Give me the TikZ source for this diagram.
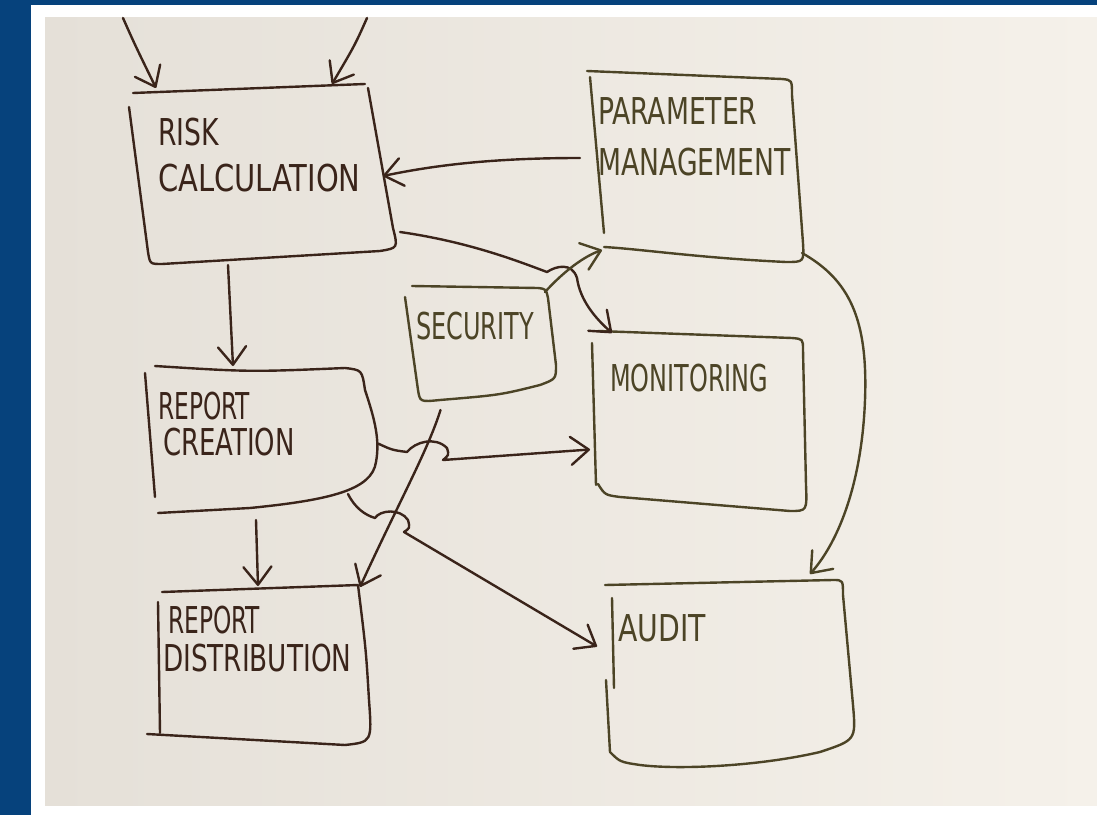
\documentclass[tikz,border=0pt]{standalone}
\usepackage{fontspec}
\newfontfamily\handfont{DejaVu Sans Condensed}
\usetikzlibrary{arrows.meta,calc}

\definecolor{frameblue}{RGB}{6,66,124}
\definecolor{paperL}{RGB}{229,224,216}
\definecolor{paperR}{RGB}{245,241,234}
\definecolor{inkbrown}{RGB}{58,36,26}
\definecolor{inkolive}{RGB}{76,68,38}

% a word set in the hand font, narrowed by the given factor
\newcommand\handword[2]{{\addfontfeature{FakeStretch=#1}#2}}

\begin{document}
\begin{tikzpicture}[x=1bp,y=-1bp,
  pen/.style={line width=2.4bp, line cap=round, line join=round},
  brownpen/.style={pen, draw=inkbrown},
  olivepen/.style={pen, draw=inkolive},
  area/.style={draw=none, inner sep=0pt, outer sep=0pt},
  boxtext/.style={font=\handfont\fontsize{37bp}{42bp}\selectfont, anchor=west, inner sep=0pt},
  flow/.style={-{Straight Barb[length=18bp,width=28bp,round]}},
]
\useasboundingbox (0,0) rectangle (1097,815);

% frame and sheet of paper
\fill[frameblue] (0,0) rectangle (1097,815);
\fill[white] (31,5) rectangle (1097,815);
\shade[left color=paperL, right color=paperR] (45,18) rectangle (1097,805);

% areas covered by the boxes (used as connector anchors)
\node[area, minimum width=268bp, minimum height=176bp] (rc)  at (264,174) {};
\node[area, minimum width=214bp, minimum height=190bp] (pm)  at (697,167) {};
\node[area, minimum width=149bp, minimum height=113bp] (sec) at (481.5,343.5) {};
\node[area, minimum width=214bp, minimum height=179bp] (mon) at (700,421.5) {};
\node[area, minimum width=232bp, minimum height=145bp] (rcr) at (262,438.5) {};
\node[area, minimum width=222bp, minimum height=160bp] (rd)  at (259,665) {};
\node[area, minimum width=248bp, minimum height=187bp] (au)  at (729,673.5) {};

% sketched outlines
% risk calculation
\draw[brownpen] (133,93) -- (365,84);
\draw[brownpen] (368,88) -- (393,228) .. controls (398,248) .. (380,251) -- (162,264) .. controls (150,264) .. (148,252) -- (129,107);
% parameter management
\draw[olivepen] (587,71) -- (782,79);
\draw[olivepen] (590,77) -- (604,233);
\draw[olivepen] (782,79) .. controls (792,80) .. (792,95) -- (803,243) .. controls (804,262) .. (786,262)
  .. controls (700,258) and (640,249) .. (604,247);
% security
\draw[olivepen] (405,297) -- (418,390) .. controls (420,402) .. (440,400) .. controls (500,395) .. (540,385)
  .. controls (556,379) .. (556,365) -- (548,298) .. controls (546,289) .. (538,288) -- (412,286);
% monitoring
\draw[olivepen] (598,331) -- (792,338) .. controls (803,339) .. (803,350) -- (806,485)
  .. controls (807,511) .. (790,511) -- (620,497) .. controls (605,495) .. (598,484);
\draw[olivepen] (592,343) -- (596,485);
% report creation
\draw[brownpen] (155,366) .. controls (250,372) .. (345,368) .. controls (362,370) .. (365,390)
  .. controls (375,420) and (380,440) .. (376,462) .. controls (372,490) and (330,500) .. (250,508) -- (158,513);
\draw[brownpen] (145,373) -- (155,497);
% report distribution
\draw[brownpen] (162,592) -- (358,585) .. controls (366,650) .. (369,700) .. controls (372,742) .. (345,745) -- (147,734);
\draw[brownpen] (158,602) -- (160,733);
% audit
\draw[olivepen] (605,585) -- (833,580) .. controls (843,580) .. (843,595) -- (853,705)
  .. controls (856,740) .. (820,752) .. controls (760,766) and (680,770) .. (640,765)
  .. controls (620,762) .. (610,752) -- (606,680);
\draw[olivepen] (612,598) -- (614,688);

% labels
\node[boxtext, text=inkbrown] (t-risk)  at (158,132) {\handword{0.80}{RISK}};
\node[boxtext, text=inkbrown] (t-calc)  at (158,178) {\handword{0.87}{CALCULATION}};
\node[boxtext, text=inkolive] (t-param) at (598,111) {\handword{0.80}{PARAMETER}};
\node[boxtext, text=inkolive] (t-mgmt)  at (598,162) {\handword{0.80}{MANAGEMENT}};
\node[boxtext, text=inkolive] (t-sec)   at (416,326) {\handword{0.72}{SECURITY}};
\node[boxtext, text=inkolive] (t-mon)   at (610,378) {\handword{0.72}{MONITORING}};
\node[boxtext, text=inkbrown] (t-rep1)  at (158,406) {\handword{0.70}{REPORT}};
\node[boxtext, text=inkbrown] (t-crea)  at (163,442) {\handword{0.78}{CREATION}};
\node[boxtext, text=inkbrown] (t-rep2)  at (168,620) {\handword{0.70}{REPORT}};
\node[boxtext, text=inkbrown] (t-dist)  at (163,658) {\handword{0.79}{DISTRIBUTION}};
\node[boxtext, text=inkolive] (t-audit) at (618,628) {\handword{0.85}{AUDIT}};

% free starts of the two incoming arrows
\coordinate (in1) at (123,18);
\coordinate (in2) at (367,18);

% connectors
\draw[brownpen, flow] (in1) .. controls (135,45) .. ($(rc.north west)+(26,2)$);
\draw[brownpen, flow] (in2) .. controls (355,45) .. ($(rc.north east)+(-66,-2)$);
\draw[brownpen, flow] ($(pm.west)+(-10,-9)$) .. controls (500,158) and (440,164) .. ($(rc.east)+(-15,2)$);
\draw[brownpen, flow] ($(rc.east)+(2,58)$) .. controls (470,242) and (520,262) .. (547,272)
  .. controls (556,266) and (572,262) .. (577,278) .. controls (580,300) and (595,318) .. ($(mon.north west)+(19,1)$);
\draw[olivepen, flow] ($(sec.north east)+(-11,5)$) .. controls (565,270) and (585,256) .. ($(pm.south west)+(12,-12)$);
\draw[brownpen, flow] ($(rc.south)+(-36,3)$) -- ($(rcr.north)+(-29,0)$);
\draw[brownpen, flow] ($(rcr.east)+(0,5)$) .. controls (392,450) .. (407,452)
  .. controls (415,442) and (435,436) .. (447,448) .. controls (449,455) .. (443,460) -- ($(mon.west)+(-3,28)$);
\draw[brownpen, flow] ($(rcr.south)+(-6,9)$) -- ($(rd.north)+(-1,1)$);
\draw[brownpen, flow] ($(sec.south)+(-41,10)$) .. controls (428,450) and (400,500) .. ($(rd.north east)+(-10,2)$);
\draw[brownpen, flow] ($(rcr.south east)+(-30,-17)$) .. controls (355,508) and (365,515) .. (375,518)
  .. controls (380,510) and (400,508) .. (408,520) .. controls (410,528) .. (404,532) -- ($(au.west)+(-8,-27)$);
\draw[olivepen, flow] ($(pm.south east)+(-2,-9)$) .. controls (850,280) and (868,320) .. (865,400)
  .. controls (862,480) and (840,540) .. ($(au.north)+(81,-6)$);
\end{tikzpicture}
\end{document}
